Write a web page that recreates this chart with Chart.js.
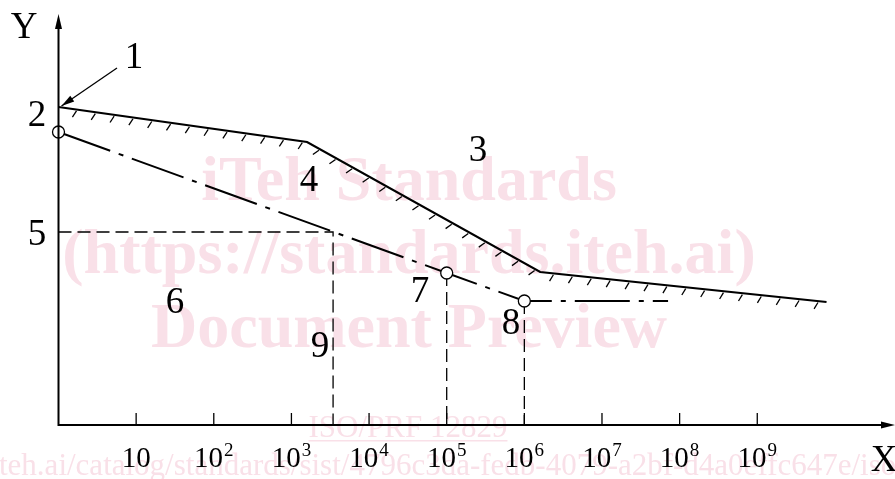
<!DOCTYPE html>
<html>
<head>
<meta charset="utf-8">
<script src="https://cdn.jsdelivr.net/npm/chart.js@4/dist/chart.umd.min.js"></script>
<style>
  body { margin: 0; background: #fff; }
  canvas { display: block; }
</style>
</head>
<body>
<canvas id="diagram" width="895" height="479"></canvas>
<script>
// upper limit line (solid, hatched underneath)
const envX = [1, 1590, 1.6e6, 7.8e9];
const envY = [318, 283, 153, 123];
// dash-dot curve with the marked points 2, 7, 8
const curveX = [1, 1e5, 1e6, 7.1e7];
const curveY = [293, 152, 124, 124];
const markRadius = [6, 6, 6, 0];
// reference point 9 / level 5
const refX = 3440;
const refY = 193;
// x axis ticks: 10^1 .. 10^9
const tickExps = [1, 2, 3, 4, 5, 6, 7, 8, 9];

const serif = '"Liberation Serif", "DejaVu Serif", serif';
const pink = '#f9e0e8';

function pts(xs, ys) {
  return xs.map((x, i) => ({ x: x, y: ys[i] }));
}

const watermark = {
  id: 'watermark',
  beforeDatasetsDraw(chart) {
    const c = chart.ctx;
    c.save();
    c.fillStyle = pink;
    c.textAlign = 'center';
    c.textBaseline = 'alphabetic';
    c.font = 'bold 64px ' + serif;
    c.fillText('iTeh Standards', 409, 200);
    c.fillText('(https://standards.iteh.ai)', 409, 273);
    c.fillText('Document Preview', 409, 347);
    c.font = '31px ' + serif;
    c.fillText('ISO/PRF 12829', 408, 437);
    const w = c.measureText('ISO/PRF 12829').width;
    c.fillRect(408 - w / 2, 440, w, 1.5);
    c.textAlign = 'left';
    const url = 'https://standards.iteh.ai/catalog/standards/sist/4796c3da-fedb-4079-a2bf-d4a0effc647e/iso-prf-12829';
    const off = c.measureText('https://standards.i').width;
    c.fillText(url, -off - 1, 475);
    c.restore();
  }
};

const axesAndNotes = {
  id: 'axesAndNotes',
  afterDatasetsDraw(chart) {
    const c = chart.ctx;
    const xs = chart.scales.x, ys = chart.scales.y;
    const x0 = xs.getPixelForValue(1);
    const y0 = ys.getPixelForValue(0);
    c.save();
    c.strokeStyle = '#000';
    c.fillStyle = '#000';

    // hatching below the limit line
    const meta = chart.getDatasetMeta(0);
    const p = meta.data.map(e => ({ x: e.x, y: e.y }));
    c.lineWidth = 1.3;
    const step = 19, len = 9, ang = 115 * Math.PI / 180;
    let carry = step;
    for (let i = 0; i < p.length - 1; i++) {
      const dx = p[i + 1].x - p[i].x, dy = p[i + 1].y - p[i].y;
      const L = Math.hypot(dx, dy);
      const ux = dx / L, uy = dy / L;
      const hx = ux * Math.cos(ang) - uy * Math.sin(ang);
      const hy = ux * Math.sin(ang) + uy * Math.cos(ang);
      let s = carry;
      while (s < L) {
        const px = p[i].x + ux * s, py = p[i].y + uy * s;
        c.beginPath();
        c.moveTo(px + hx * 1.5, py + hy * 1.5);
        c.lineTo(px + hx * len, py + hy * len);
        c.stroke();
        s += step;
      }
      carry = s - L;
    }

    // axes with arrows
    c.lineWidth = 2;
    c.beginPath();
    c.moveTo(x0, y0);
    c.lineTo(884, y0);
    c.moveTo(x0, y0 + 1);
    c.lineTo(x0, 26);
    c.stroke();
    c.beginPath();
    c.moveTo(895, y0); c.lineTo(881, y0 - 3.5); c.lineTo(881, y0 + 3.5); c.closePath();
    c.fill();
    c.beginPath();
    c.moveTo(x0, 14); c.lineTo(x0 - 3.5, 29); c.lineTo(x0 + 3.5, 29); c.closePath();
    c.fill();

    // ticks and labels
    c.lineWidth = 1.3;
    c.textBaseline = 'alphabetic';
    c.textAlign = 'left';
    tickExps.forEach(e => {
      const tx = xs.getPixelForValue(Math.pow(10, e));
      c.beginPath();
      c.moveTo(tx, y0);
      c.lineTo(tx, y0 - 12);
      c.stroke();
      c.font = '29px ' + serif;
      const bw = c.measureText('10').width;
      let sup = e > 1 ? String(e) : '';
      c.font = '19px ' + serif;
      const sw = sup ? c.measureText(sup).width + 1 : 0;
      const start = tx - (bw + sw) / 2;
      c.font = '29px ' + serif;
      c.fillText('10', start, 467);
      if (sup) {
        c.font = '19px ' + serif;
        c.fillText(sup, start + bw + 1, 456);
      }
    });

    // leader arrow for note 1
    const tip = { x: p[0].x + 3, y: p[0].y - 1 };
    const tail = { x: 117, y: 68 };
    c.lineWidth = 1.3;
    c.beginPath();
    c.moveTo(tail.x, tail.y);
    c.lineTo(tip.x, tip.y);
    c.stroke();
    const a = Math.atan2(tip.y - tail.y, tip.x - tail.x);
    c.beginPath();
    c.moveTo(tip.x, tip.y);
    c.lineTo(tip.x - 13 * Math.cos(a) + 3.5 * Math.sin(a), tip.y - 13 * Math.sin(a) - 3.5 * Math.cos(a));
    c.lineTo(tip.x - 13 * Math.cos(a) - 3.5 * Math.sin(a), tip.y - 13 * Math.sin(a) + 3.5 * Math.cos(a));
    c.closePath();
    c.fill();

    // numbered notes and axis names
    c.textAlign = 'center';
    c.textBaseline = 'middle';
    c.font = '37px ' + serif;
    const notes = [
      ['Y', 24, 28], ['1', 134, 58], ['2', 37, 116], ['3', 478, 151],
      ['4', 309, 181], ['5', 37, 235], ['6', 175, 303], ['7', 420, 292],
      ['8', 511, 324], ['9', 320, 347], ['X', 884, 461]
    ];
    notes.forEach(n => c.fillText(n[0], n[1], n[2]));
    c.restore();
  }
};

new Chart(document.getElementById('diagram').getContext('2d'), {
  type: 'scatter',
  data: {
    datasets: [
      {
        data: pts(envX, envY),
        showLine: true,
        borderColor: '#000',
        borderWidth: 2.2,
        pointRadius: 0,
        clip: false
      },
      {
        data: pts(curveX, curveY),
        showLine: true,
        borderColor: '#000',
        borderWidth: 2,
        borderDash: [55, 9, 5, 9],
        pointRadius: markRadius,
        pointBorderWidth: 1.3,
        pointBorderColor: '#000',
        pointBackgroundColor: '#fff',
        clip: false
      },
      {
        data: pts([1, refX, refX], [refY, refY, 0]),
        showLine: true,
        borderColor: '#000',
        borderWidth: 1.3,
        borderDash: [13, 6],
        pointRadius: 0,
        clip: false
      },
      {
        data: pts([curveX[1], curveX[1]], [curveY[1], 0]),
        showLine: true,
        borderColor: '#000',
        borderWidth: 1.3,
        borderDash: [13, 6],
        pointRadius: 0,
        clip: false
      },
      {
        data: pts([curveX[2], curveX[2]], [curveY[2], 0]),
        showLine: true,
        borderColor: '#000',
        borderWidth: 1.3,
        borderDash: [13, 6],
        pointRadius: 0,
        clip: false
      }
    ]
  },
  options: {
    responsive: false,
    animation: false,
    layout: { padding: { left: 58.5, right: 5, top: 15, bottom: 54 } },
    scales: {
      x: { type: 'logarithmic', min: 1, max: Math.pow(10, 10.68), display: false },
      y: { type: 'linear', min: 0, max: 410, display: false }
    },
    plugins: {
      legend: { display: false },
      tooltip: { enabled: false }
    }
  },
  plugins: [watermark, axesAndNotes]
});
</script>
</body>
</html>
